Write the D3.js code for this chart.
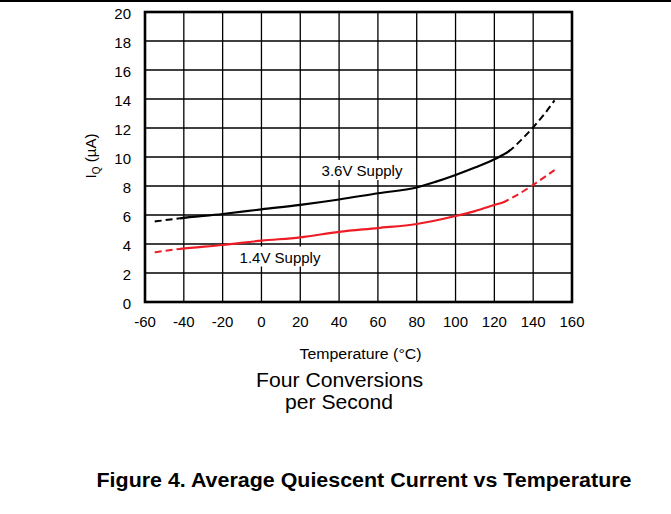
<!DOCTYPE html>
<html>
<head>
<meta charset="utf-8">
<script src="https://cdn.jsdelivr.net/npm/d3@7"></script>
<style>
  body { margin: 0; background: #fff; }
  text { font-family: "Liberation Sans", Arial, sans-serif; }
</style>
</head>
<body>
<div id="chart"></div>
<script>
// temperatures (°C) and quiescent current (µA)
const temps36 = [-55, -42, -20, 0, 20, 40, 60, 80, 90, 100, 110, 120, 128, 134, 140, 146, 151];
const iq36 = [5.55, 5.77, 6.07, 6.39, 6.7, 7.07, 7.5, 7.9, 8.3, 8.76, 9.27, 9.84, 10.45, 11.2, 12.05, 13.0, 13.9];
const temps14 = [-55, -42, -20, 0, 20, 40, 60, 80, 100, 110, 120, 125, 130, 140, 151];
const iq14 = [3.43, 3.66, 3.93, 4.23, 4.46, 4.84, 5.1, 5.38, 5.93, 6.27, 6.69, 6.9, 7.25, 8.08, 9.1];
// measured (solid) range of each curve, outside is extrapolated (dashed)
const solid36 = [-42, 128];
const solid14 = [-42, 127];
const xTicks = [-60, -40, -20, 0, 20, 40, 60, 80, 100, 120, 140, 160];
const yTicks = [0, 2, 4, 6, 8, 10, 12, 14, 16, 18, 20];

const width = 671, height = 514;
const plotL = 145, plotR = 572, plotT = 12, plotB = 302;

const svg = d3.select("#chart").append("svg")
  .attr("width", width)
  .attr("height", height);

const x = d3.scaleLinear().domain([-60, 160]).range([plotL, plotR]);
const y = d3.scaleLinear().domain([0, 20]).range([plotB, plotT]);

// rule across the top of the page
svg.append("line")
  .attr("x1", 0).attr("x2", width)
  .attr("y1", 1).attr("y2", 1)
  .attr("stroke", "#000").attr("stroke-width", 2);

// grid
svg.append("g")
  .selectAll("line")
  .data(xTicks.slice(1, -1))
  .enter().append("line")
  .attr("x1", d => x(d)).attr("x2", d => x(d))
  .attr("y1", plotT).attr("y2", plotB)
  .attr("stroke", "#000").attr("stroke-width", 1.3);

svg.append("g")
  .selectAll("line")
  .data(yTicks.slice(1, -1))
  .enter().append("line")
  .attr("x1", plotL).attr("x2", plotR)
  .attr("y1", d => y(d)).attr("y2", d => y(d))
  .attr("stroke", "#000").attr("stroke-width", 1.3);

svg.append("rect")
  .attr("x", plotL).attr("y", plotT)
  .attr("width", plotR - plotL).attr("height", plotB - plotT)
  .attr("fill", "none").attr("stroke", "#000").attr("stroke-width", 2.6);

// tick labels
svg.append("g")
  .selectAll("text")
  .data(yTicks)
  .enter().append("text")
  .attr("x", 131)
  .attr("y", d => y(d) + 6.5)
  .attr("text-anchor", "end")
  .attr("font-size", "15px")
  .text(d => d);

svg.append("g")
  .selectAll("text")
  .data(xTicks)
  .enter().append("text")
  .attr("x", d => x(d))
  .attr("y", 327)
  .attr("text-anchor", "middle")
  .attr("font-size", "15px")
  .text(d => d);

// curves: full curve dashed, measured part drawn solid over it
const line = d3.line()
  .x(d => x(d[0]))
  .y(d => y(d[1]))
  .curve(d3.curveMonotoneX);

const defs = svg.append("defs");

function drawSeries(id, temps, vals, solid, color) {
  const pts = temps.map((t, i) => [t, vals[i]]);
  defs.append("clipPath").attr("id", "out-" + id)
    .selectAll("rect")
    .data([[0, x(solid[0])], [x(solid[1]), width]])
    .enter().append("rect")
    .attr("x", d => d[0]).attr("y", 0)
    .attr("width", d => d[1] - d[0]).attr("height", height);
  defs.append("clipPath").attr("id", "in-" + id)
    .append("rect")
    .attr("x", x(solid[0])).attr("y", 0)
    .attr("width", x(solid[1]) - x(solid[0])).attr("height", height);

  svg.append("path")
    .attr("d", line(pts))
    .attr("clip-path", "url(#out-" + id + ")")
    .attr("fill", "none")
    .attr("stroke", color)
    .attr("stroke-width", 2)
    .attr("stroke-dasharray", "7,4");
  svg.append("path")
    .attr("d", line(pts))
    .attr("clip-path", "url(#in-" + id + ")")
    .attr("fill", "none")
    .attr("stroke", color)
    .attr("stroke-width", 2.2);
}

drawSeries("s36", temps36, iq36, solid36, "#000");
drawSeries("s14", temps14, iq14, solid14, "#ee1c25");

// series labels with white background
function label(text, cx, cy) {
  const t = svg.append("text")
    .attr("x", cx).attr("y", cy)
    .attr("text-anchor", "middle")
    .attr("font-size", "15px")
    .text(text);
  const b = t.node().getBBox();
  svg.insert("rect", () => t.node())
    .attr("x", b.x - 3).attr("y", b.y - 2)
    .attr("width", b.width + 6).attr("height", b.height + 3)
    .attr("fill", "#fff");
}
label("3.6V Supply", 362, 176);
label("1.4V Supply", 280, 262.5);

// y axis title
const yt = svg.append("text")
  .attr("transform", "translate(96,156) rotate(-90)")
  .attr("text-anchor", "middle")
  .attr("font-size", "15px");
yt.append("tspan").text("I");
yt.append("tspan").attr("font-size", "10px").attr("dy", 4).text("Q");
yt.append("tspan").attr("dy", -4).text(" (µA)");

svg.append("text")
  .attr("x", 360.5).attr("y", 358.5)
  .attr("text-anchor", "middle")
  .attr("font-size", "14px")
  .attr("textLength", 122)
  .attr("lengthAdjust", "spacingAndGlyphs")
  .text("Temperature (°C)");

svg.append("text")
  .attr("x", 339.5).attr("y", 387)
  .attr("text-anchor", "middle")
  .attr("font-size", "19.5px")
  .attr("textLength", 167)
  .attr("lengthAdjust", "spacingAndGlyphs")
  .text("Four Conversions");

svg.append("text")
  .attr("x", 339).attr("y", 409)
  .attr("text-anchor", "middle")
  .attr("font-size", "19.5px")
  .attr("textLength", 108)
  .attr("lengthAdjust", "spacingAndGlyphs")
  .text("per Second");

svg.append("text")
  .attr("x", 364).attr("y", 487)
  .attr("text-anchor", "middle")
  .attr("font-size", "19.5px")
  .attr("font-weight", "bold")
  .attr("textLength", 535)
  .attr("lengthAdjust", "spacingAndGlyphs")
  .text("Figure 4. Average Quiescent Current vs Temperature");
</script>
</body>
</html>
